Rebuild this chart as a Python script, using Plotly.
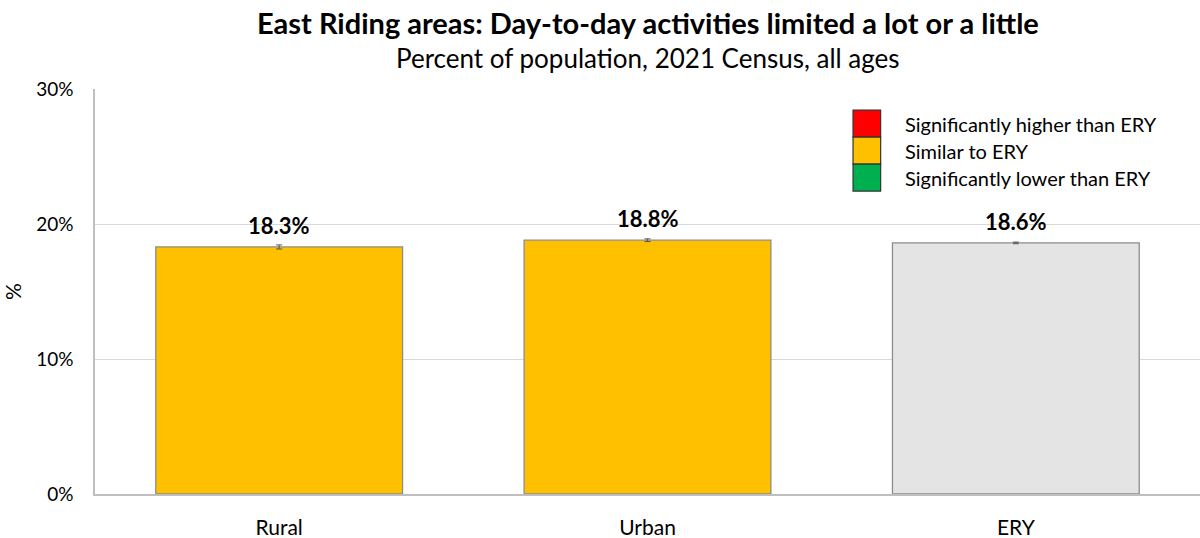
import plotly.graph_objects as go

categories = ["Rural", "Urban", "ERY"]
values = [18.3, 18.8, 18.6]
errors = [0.15, 0.1, 0.06]
bar_colors = ["#FFC000", "#FFC000", "#E4E4E4"]
labels = ["18.3%", "18.8%", "18.6%"]
legend_labels = ["Significantly higher than ERY", "Similar to ERY", "Significantly lower than ERY"]
legend_colors = ["#FF0000", "#FFC000", "#00B050"]

FONT = "Lato, 'Open Sans', sans-serif"

fig = go.Figure()
fig.add_trace(go.Bar(
    x=categories, y=values,
    marker=dict(color=bar_colors, line=dict(color="#8C8C8C", width=1.3)),
    width=0.67,
    error_y=dict(type="data", array=errors, visible=True, color="#555555", thickness=1, width=3),
    showlegend=False, hoverinfo="skip",
))

for c, v, t in zip(categories, values, labels):
    fig.add_annotation(x=c, y=v, text="<b>" + t + "</b>", showarrow=False,
                       yanchor="bottom", yshift=6, font=dict(size=22, color="#000", family=FONT))

# legend as boxes and text
top = 0.948
h = 0.0667
for i, (lab, col) in enumerate(zip(legend_labels, legend_colors)):
    y1 = top - i * h
    y0 = y1 - h
    fig.add_shape(type="rect", xref="paper", yref="paper",
                  x0=0.686, x1=0.711, y0=y0, y1=y1,
                  fillcolor=col, line=dict(color="#333", width=1.2))
    fig.add_annotation(xref="paper", yref="paper", x=0.731, y=(y0 + y1) / 2,
                       text=lab, showarrow=False, xanchor="left", yanchor="middle",
                       font=dict(size=20, color="#000", family=FONT))

# titles
fig.add_annotation(xref="paper", yref="paper", x=0.5, y=1.165, yanchor="middle",
                   text="<b>East Riding areas: Day-to-day activities limited a lot or a little</b>",
                   showarrow=False, font=dict(size=29, family=FONT, color="#000"))
fig.add_annotation(xref="paper", yref="paper", x=0.5, y=1.077, yanchor="middle",
                   text="Percent of population, 2021 Census, all ages",
                   showarrow=False, font=dict(size=26, family=FONT, color="#000"))

fig.update_layout(
    width=1200, height=538,
    margin=dict(l=95, r=0, t=89, b=44),
    paper_bgcolor="white", plot_bgcolor="white",
    font=dict(family=FONT, color="#000"),
    bargap=0.33,
)
fig.update_yaxes(range=[0, 30], tickvals=[0, 10, 20, 30], ticktext=["0%", "10%", "20%", "30%"],
                 showgrid=True, gridcolor="#D9D9D9", gridwidth=1,
                 showline=True, linecolor="#BFBFBF", linewidth=1.5,
                 ticks="", ticklen=0, ticklabelstandoff=16, tickfont=dict(size=19, family=FONT),
                 title=dict(text="%", font=dict(size=21, family=FONT), standoff=14),
                 zeroline=False)
fig.update_xaxes(showline=True, linecolor="#BFBFBF", linewidth=1.5, ticks="",
                 ticklabelstandoff=14, tickfont=dict(size=21, family=FONT))

fig.write_html("out.html")
